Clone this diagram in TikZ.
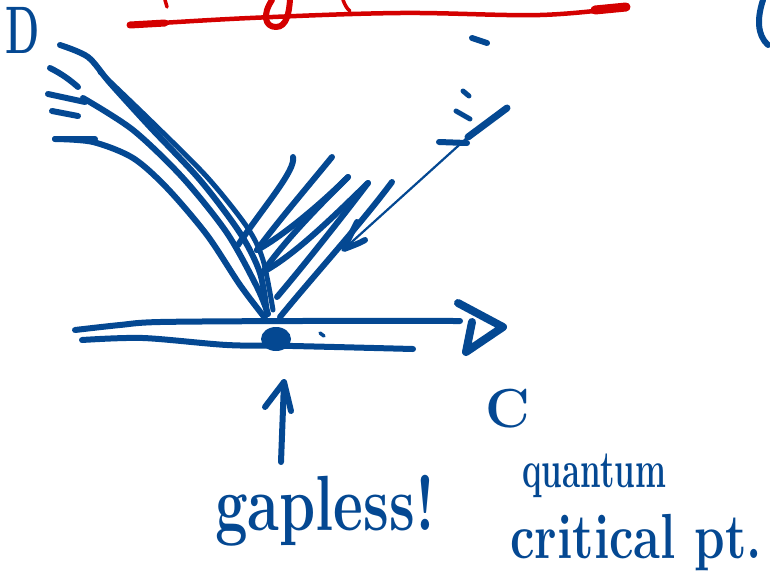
\documentclass[tikz,border=0pt]{standalone}
\usepackage{fontspec}
\definecolor{inkblue}{RGB}{4,72,146}
\definecolor{inkred}{RGB}{212,0,0}
\begin{document}
\begin{tikzpicture}[x=1pt,y=-1pt,
  ink/.style={draw=inkblue, line width=6pt, line cap=round, line join=round},
  thinink/.style={draw=inkblue, line width=2.2pt, line cap=round, line join=round},
  redink/.style={draw=inkred, line width=4.5pt, line cap=round, line join=round},
  hand/.style={text=inkblue, inner sep=0pt, anchor=base west}]
\useasboundingbox (0,0) rectangle (770,576);

% ---- red fragments at the top
\draw[redink] plot[smooth, tension=0.6] coordinates {(130,25) (250,18) (400,13) (540,15) (627,7)};
\draw[redink, line width=7pt] (130,25) -- (165,23);
\draw[redink, line width=9pt] (595,10) -- (626,7);
\draw[redink, line width=6pt] (272,0) .. controls (262,15) and (265,27) .. (276,27) .. controls (287,27) and (289,12) .. (290,0);
\draw[redink, line width=3.5pt] (165,0) -- (167,7);
\draw[redink, line width=3.5pt] (343,0) .. controls (345,5) and (347,9) .. (350,11);

% ---- labels
\node[text=inkblue, inner sep=0pt, xscale=0.62, yscale=1.05, font=\fontsize{64}{64}\selectfont\bfseries] (dlab) at (23,30) {D};
\draw[ink] (763,0) .. controls (757,18) and (757,35) .. (768,45);
\node[text=inkblue, inner sep=0pt, font=\fontsize{55}{55}\selectfont\bfseries] (clab) at (508,409) {C};
\node[hand, yscale=1.35, font=\fontsize{58}{58}\selectfont\bfseries] (gap) at (215,530) {gapless!};
\node[hand, yscale=1.6, font=\fontsize{33}{33}\selectfont\bfseries] (qu) at (522,487) {quantum};
\node[hand, yscale=1.3, font=\fontsize{49}{49}\selectfont\bfseries] (crit) at (510,558) {critical pt.};

% ---- left fan
\draw[ink] plot[smooth] coordinates {(60,45) (88,57) (110,83) (150,127) (200,180) (240,233) (260,273) (267,314)};
\draw[ink, line width=5pt] plot[smooth] coordinates {(100,72) (153,123) (207,177) (247,227) (263,260) (273,310)};
\draw[ink] plot[smooth] coordinates {(83,98) (133,130) (183,178) (227,233) (257,287) (268,314)};
\draw[ink] plot[smooth] coordinates {(55,139) (93,142) (133,158) (167,188) (207,235) (240,285) (265,318)};
\draw[ink] (50,68) .. controls (62,74) and (70,80) .. (78,87);
\draw[ink] (48,94) -- (85,102);
\draw[ink] (52,111) -- (78,116);
\draw[ink] (55,139) -- (95,139);

% ---- right fan (zig-zag strokes)
\draw[ink] (293,157) .. controls (296,170) and (265,205) .. (238,245);
\draw[ink] (332,157) .. controls (305,190) and (275,225) .. (257,250);
\draw[ink] (257,250) .. controls (280,238) and (320,205) .. (348,177);
\draw[ink] (348,177) .. controls (320,205) and (285,240) .. (263,272);
\draw[ink] (263,272) .. controls (295,255) and (335,215) .. (368,183);
\draw[ink] (368,183) .. controls (340,220) and (300,270) .. (277,297);
\draw[ink] (392,182) .. controls (360,225) and (310,280) .. (280,317);

% ---- arrow from upper right
\draw[ink, line width=7pt] (507,108) -- (468,137);
\draw[thinink] (468,137) -- (344,249);
\draw[ink] (357,222) .. controls (352,232) and (347,242) .. (344,249) .. controls (352,246) and (360,243) .. (365,240);
\draw[ink] (472,38) -- (487,43);
\draw[ink, line width=5pt] (463,91) -- (469,96);
\draw[ink, line width=5pt] (456,111) -- (470,119);
\draw[ink] (439,142) -- (467,143);

% ---- horizontal axis
\draw[ink] plot[smooth] coordinates {(75,330) (120,325) (160,322) (300,321) (460,321)};
\draw[ink] plot[smooth] coordinates {(82,340) (143,338) (227,345) (293,346) (413,349)};
\draw[ink, line width=8pt] (458,303) -- (503,327) -- (466,352) -- (472,322);
\fill[inkblue] (276,339) ellipse [x radius=15, y radius=12];
\coordinate (qcp) at (276,339);
\draw[ink, line width=3.5pt] (320,333) -- (324,336);

% ---- arrow pointing at the critical point
\coordinate (atip) at (284,382);
\coordinate (atail) at (281,462);
\draw[ink] (atail) -- (atip);
\draw[ink] (265,407) -- (atip) -- (291,411);
\end{tikzpicture}
\end{document}
